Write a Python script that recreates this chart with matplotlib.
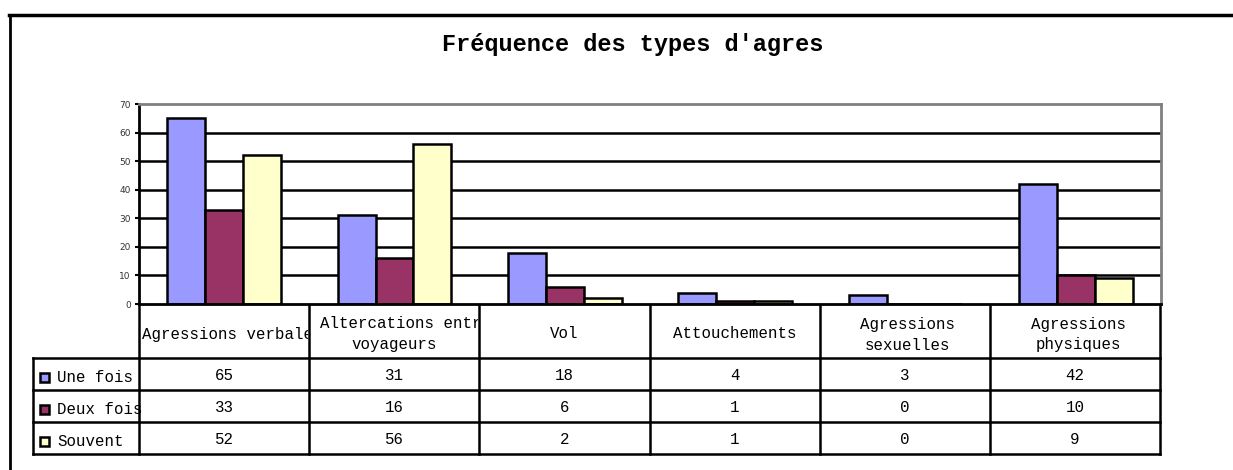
import matplotlib.pyplot as plt
from matplotlib.patches import Rectangle

categories = ["Agressions verbales", "Altercations entre voyageurs", "Vol",
              "Attouchements", "Agressions sexuelles", "Agressions physiques"]
series = ["Une fois", "Deux fois", "Souvent"]
une_fois = [65, 31, 18, 4, 3, 42]
deux_fois = [33, 16, 6, 1, 0, 10]
souvent = [52, 56, 2, 1, 0, 9]
values = [une_fois, deux_fois, souvent]
colors = ["#9999FF", "#993366", "#FFFFCC"]
yticks = [0, 10, 20, 30, 40, 50, 60, 70]

W, H = 1233, 470
fig = plt.figure(figsize=(W / 100, H / 100), dpi=100)

# overlay in pixel coordinates for frame + data table
ov = fig.add_axes([0, 0, 1, 1])
ov.set_xlim(0, W)
ov.set_ylim(H, 0)
ov.axis("off")

# chart area (pixels)
L, R, T, B = 139, 1161, 104, 304
ax = fig.add_axes([L / W, (H - B) / H, (R - L) / W, (B - T) / H])
ax.set_xlim(0, len(categories))
ax.set_ylim(0, 70)

lw = 1.8
for y in yticks[1:-1]:
    ax.axhline(y, color="black", lw=lw, zorder=1)
bw = 1 / 4.5
for k, vals in enumerate(values):
    xs = [i + 0.5 + (k - 1) * bw for i in range(len(categories))]
    ax.bar(xs, vals, width=bw, color=colors[k], edgecolor="black",
           linewidth=lw, zorder=2)

for side in ["top", "right"]:
    ax.spines[side].set_color("#808080")
for side in ax.spines:
    ax.spines[side].set_linewidth(2)
ax.set_xticks([])
ax.set_yticks(yticks)
ax.tick_params(axis="y", length=3, width=1.5, labelsize=6.5, labelcolor="#333333",
               pad=3)

# outer frame
ov.plot([9.5, 9.5], [15, H], color="black", lw=2)
ov.plot([9, W], [15, 15], color="black", lw=2.5)

# title, clipped like the original
t = ov.text(442, 45, "Fréquence des types d'agressions", fontsize=17,
            family="Liberation Mono", fontweight="bold", ha="left", va="center")
t.set_clip_on(True)
t.set_clip_path(Rectangle((0, 0), 822, 470, transform=ov.transData))

# data table
mono = "Liberation Mono"
fs = 11.3
edges = [139 + 170.2 * i for i in range(len(categories) + 1)]
rows = [304, 358, 390, 422, 454]
for y in rows[1:]:
    ov.plot([33, edges[-1]], [y, y], color="black", lw=lw)
ov.plot([33, 33], [358, 454], color="black", lw=lw)
for x in edges:
    ov.plot([x, x], [304, 454], color="black", lw=lw)

for i, name in enumerate(categories):
    x0, x1 = edges[i], edges[i + 1]
    cx = (x0 + x1) / 2
    clip = Rectangle((x0 + 1, 304), x1 - x0 - 2, 54, transform=ov.transData)
    if name == "Agressions verbales":
        txts = [ov.text(x0 + 3, 334, name, ha="left")]
    elif name == "Altercations entre voyageurs":
        txts = [ov.text(x0 + 11, 324, "Altercations entre", ha="left"),
                ov.text(cx, 345, "voyageurs", ha="center")]
    elif " " in name:
        a, b = name.split(" ")
        txts = [ov.text(cx + 3, 324, a, ha="center"),
                ov.text(cx + 3, 345, b, ha="center")]
    else:
        txts = [ov.text(cx, 334, name, ha="center")]
    for tx in txts:
        tx.set_fontsize(fs)
        tx.set_family(mono)
        tx.set_va("center")
        tx.set_clip_on(True)
        tx.set_clip_path(clip)

for k, s in enumerate(series):
    ymid = rows[k + 1] + 20
    ov.add_patch(Rectangle((40, ymid - 5), 9, 9, facecolor=colors[k],
                           edgecolor="black", lw=1.8))
    ov.text(57, ymid, s, fontsize=fs, family=mono, va="center", ha="left")
    for i, v in enumerate(values[k]):
        cx = (edges[i] + edges[i + 1]) / 2
        ov.text(cx, ymid - 2, str(v), fontsize=fs, family=mono, va="center",
                ha="center")

fig.savefig("out.png", dpi=100)
